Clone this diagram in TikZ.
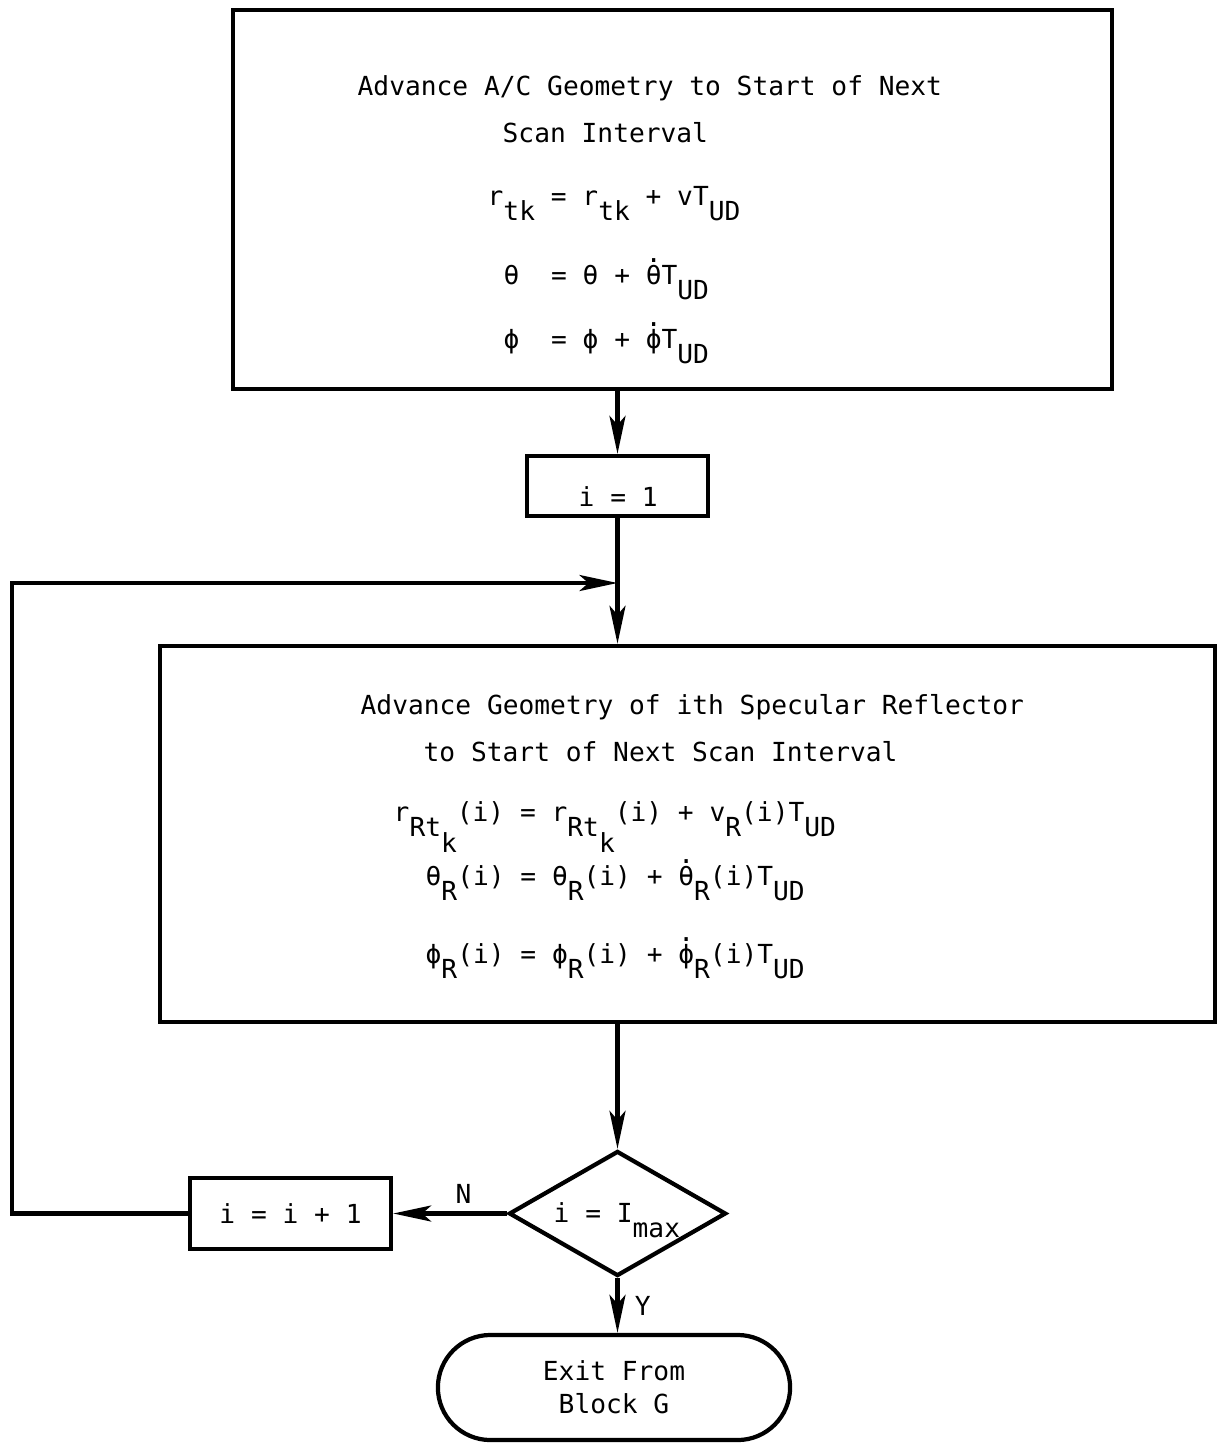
\documentclass[tikz,border=0pt]{standalone}
\usepackage{fontspec}
\setmainfont{DejaVu Sans Mono}
\usetikzlibrary{arrows.meta,shapes.geometric,shapes.misc}
\newcommand{\lo}[1]{\raisebox{-0.6em}{#1}}
\newcommand{\dt}[1]{\ooalign{#1\cr\raisebox{0.82em}{.}\cr}}

\begin{document}
\begin{tikzpicture}[x=0.01cm,y=-0.01cm,
    font=\fontsize{7.46}{9.4}\selectfont,
    blk/.style={draw,line width=1.2pt,inner sep=0pt},
    txt/.style={anchor=base west,inner sep=0pt},
    flow/.style={line width=1.2pt,-{Stealth[length=3.8mm,width=1.6mm,inset=0.9mm]}}]
  \useasboundingbox (0,0) rectangle (1217,1444);
  % A/C geometry block
  \node[blk,minimum width=8.79cm,minimum height=3.79cm] (acbox) at (672.5,199.5) {};
  \node[txt] (actitle) at (357,95) {Advance A/C Geometry to Start of Next};
  \node[txt] (actitleb) at (502,142) {Scan Interval};
  \node[txt] (aceqr) at (487,205) {r\lo{tk} = r\lo{tk} + vT\lo{UD}};
  \node[txt] (aceqth) at (503,284) {θ~~= θ + \dt{θ}T\lo{UD}};
  \node[txt] (aceqph) at (503,348) {ϕ~~= ϕ + \dt{ϕ}T\lo{UD}};
  % counter init
  \node[blk,minimum width=1.81cm,minimum height=0.6cm] (initbox) at (617.5,486) {};
  \node[txt] (inittxt) at (578,506) {i = 1};
  % reflector block
  \node[blk,minimum width=10.55cm,minimum height=3.76cm] (specbox) at (687.5,834) {};
  \node[txt] (sptitle) at (360,714) {Advance Geometry of ith Specular Reflector};
  \node[txt] (sptitleb) at (423,761) {to Start of Next Scan Interval};
  \node[txt] (speqr) at (393,821) {r\lo{Rt\lo{k}}(i) = r\lo{Rt\lo{k}}(i) + v\lo{R}(i)T\lo{UD}};
  \node[txt] (speqth) at (425,885) {θ\lo{R}(i) = θ\lo{R}(i) + \dt{θ}\lo{R}(i)T\lo{UD}};
  \node[txt] (speqph) at (425,963) {ϕ\lo{R}(i) = ϕ\lo{R}(i) + \dt{ϕ}\lo{R}(i)T\lo{UD}};
  % test and exit
  \node[blk,diamond,minimum width=2.17cm,minimum height=1.25cm] (test) at (617.5,1213.5) {};
  \node[txt] (testtxt) at (553,1222) {i = I\lo{max}};
  \node[blk,minimum width=2.01cm,minimum height=0.71cm] (incbox) at (290.5,1213.5) {i = i + 1};
  \node[blk,rounded rectangle,minimum width=3.52cm,minimum height=1.05cm,align=center] (exitnd) at (614,1387.5) {Exit From\\Block G};
  \coordinate (join) at (617.5,583);
  \coordinate (loopc) at (12,583);

  \draw[flow] (acbox.south -| initbox.north) -- (initbox.north);
  \draw[flow] (initbox.south) -- (initbox.south |- specbox.north);
  \draw[flow] (specbox.south -| test.north) -- (test.north);
  \draw[flow] (test.west) -- node[pos=0.38,above=-1pt] {N} (incbox.east);
  \draw[flow] (test.south) -- node[right=1pt] {Y} (test.south |- exitnd.north);
  \draw[flow] (incbox.west) -| (loopc) -- (join);
\end{tikzpicture}
\end{document}
